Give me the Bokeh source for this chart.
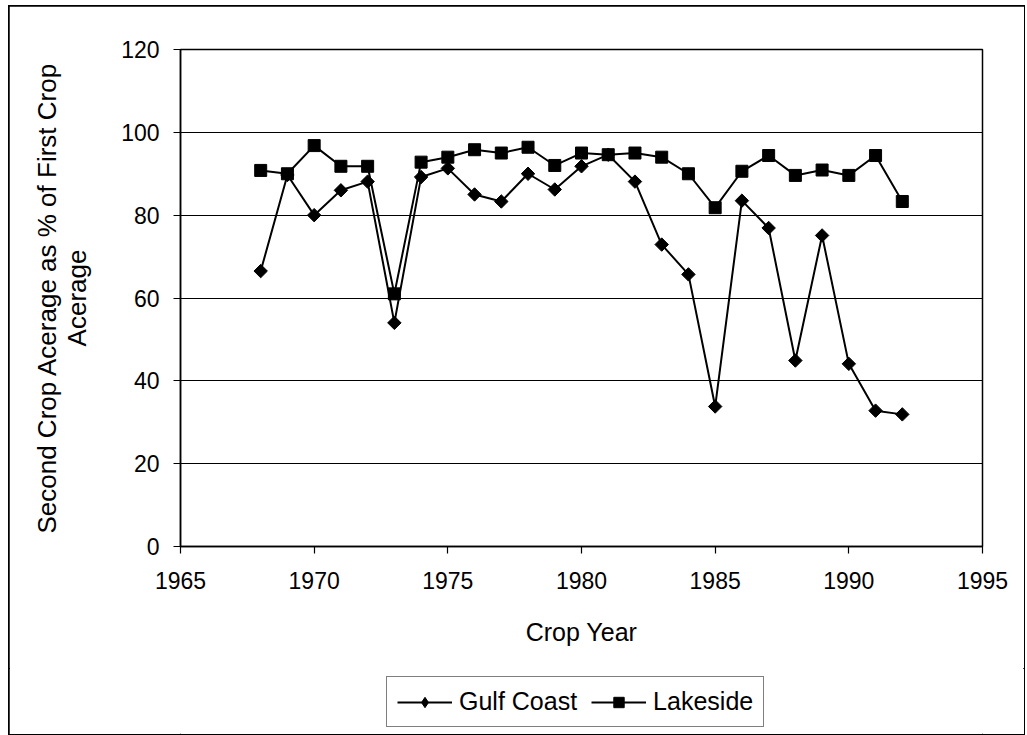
import math
from bokeh.plotting import figure
from bokeh.layouts import column
from bokeh.models import Range1d, Legend, LegendItem, FixedTicker
from bokeh.embed import file_html
from bokeh.resources import INLINE

years = [1968, 1969, 1970, 1971, 1972, 1973, 1974, 1975, 1976, 1977, 1978, 1979,
         1980, 1981, 1982, 1983, 1984, 1985, 1986, 1987, 1988, 1989, 1990, 1991, 1992]
gulf_coast = [66.5, 89.7, 80.0, 86.0, 88.1, 54.0, 89.2, 91.3, 85.0, 83.3, 90.0, 86.2,
              91.8, 94.6, 88.1, 72.9, 65.7, 33.8, 83.5, 76.9, 44.9, 75.1, 44.1, 32.8, 31.9]
lakeside = [90.8, 90.0, 96.8, 91.8, 91.8, 61.0, 92.8, 94.0, 95.8, 95.0, 96.4, 92.0,
            95.0, 94.6, 95.0, 94.0, 90.0, 81.8, 90.6, 94.4, 89.6, 90.9, 89.6, 94.4, 83.3]
series_names = ["Gulf Coast", "Lakeside"]
x_ticks = [1965, 1970, 1975, 1980, 1985, 1990, 1995]
y_ticks = [0, 20, 40, 60, 80, 100, 120]

FONT = "Liberation Sans"

p = figure(width=1015, height=662, output_backend="svg", toolbar_location=None,
           x_range=Range1d(1965, 1995), y_range=Range1d(0, 120),
           min_border_left=171, min_border_right=42, min_border_top=43,
           min_border_bottom=122)

p.outline_line_color = "black"
p.outline_line_width = 1.5

p.xgrid.visible = False
p.ygrid.grid_line_color = "black"
p.ygrid.grid_line_width = 1.2
p.ygrid.ticker = FixedTicker(ticks=y_ticks)

p.xaxis.ticker = FixedTicker(ticks=x_ticks)
p.yaxis.ticker = FixedTicker(ticks=y_ticks)
for ax in (p.xaxis[0], p.yaxis[0]):
    ax.axis_line_color = "black"
    ax.axis_line_width = 1.5
    ax.major_tick_line_color = "black"
    ax.major_tick_line_width = 1.2
    ax.major_tick_in = 0
    ax.major_tick_out = 7
    ax.minor_tick_line_color = None
    ax.major_label_text_font = FONT
    ax.major_label_text_font_size = "23px"
    ax.major_label_text_color = "black"
    ax.axis_label_text_font = FONT
    ax.axis_label_text_font_style = "normal"
    ax.axis_label_text_color = "black"

p.xaxis.axis_label = "Crop Year"
p.xaxis.axis_label_text_font_size = "25px"
p.xaxis.major_label_standoff = 18
p.xaxis.axis_label_standoff = 26
p.yaxis.axis_label = "Second Crop Acerage as % of First Crop\nAcerage"
p.yaxis.axis_label_text_font_size = "26px"
p.yaxis.axis_label_text_line_height = 1.0
p.yaxis.major_label_standoff = 14
p.yaxis.axis_label_standoff = 26

gl = p.line(years, gulf_coast, line_color="black", line_width=2)
gs = p.scatter(years, gulf_coast, marker="square", size=9.5, angle=math.pi / 4,
               fill_color="black", line_color="black")
ll = p.line(years, lakeside, line_color="black", line_width=2)
ls = p.scatter(years, lakeside, marker="square", size=12,
               fill_color="black", line_color="black")

# legend strip below the chart; its proxy glyphs hold the first data point,
# which lies outside this strip's ranges, so only the legend shows them
q = figure(width=1015, height=66, output_backend="svg", toolbar_location=None,
           x_range=Range1d(0, 1), y_range=Range1d(0, 1),
           x_axis_location=None, y_axis_location=None, min_border=0)
q.grid.visible = False
q.outline_line_color = None
lg1 = q.line(x=years[:1], y=gulf_coast[:1], line_color="black", line_width=2)
lm1 = q.scatter(x=years[:1], y=gulf_coast[:1], marker="diamond",
                fill_color="black", line_color="black")
lg2 = q.line(x=years[:1], y=lakeside[:1], line_color="black", line_width=2)
lm2 = q.scatter(x=years[:1], y=lakeside[:1], marker="square",
                fill_color="black", line_color="black")

legend = Legend(items=[LegendItem(label=series_names[0], renderers=[lg1, lm1]),
                       LegendItem(label=series_names[1], renderers=[lg2, lm2])],
                orientation="horizontal", location=(206, 7))
legend.label_text_font = FONT
legend.label_text_font_size = "25px"
legend.label_text_color = "black"
legend.label_height = 28
legend.glyph_width = 55
legend.glyph_height = 26
legend.label_standoff = 7
legend.spacing = 14
legend.padding = 10
legend.margin = 0
legend.border_line_color = "black"
legend.border_line_width = 1.5
legend.background_fill_alpha = 0
q.add_layout(legend)

layout = column(p, q, spacing=0,
                styles={"margin-left": "9px", "margin-top": "6px",
                        "outline": "2px solid black", "outline-offset": "-1px"})

open("out.html", "w").write(file_html(layout, INLINE))
